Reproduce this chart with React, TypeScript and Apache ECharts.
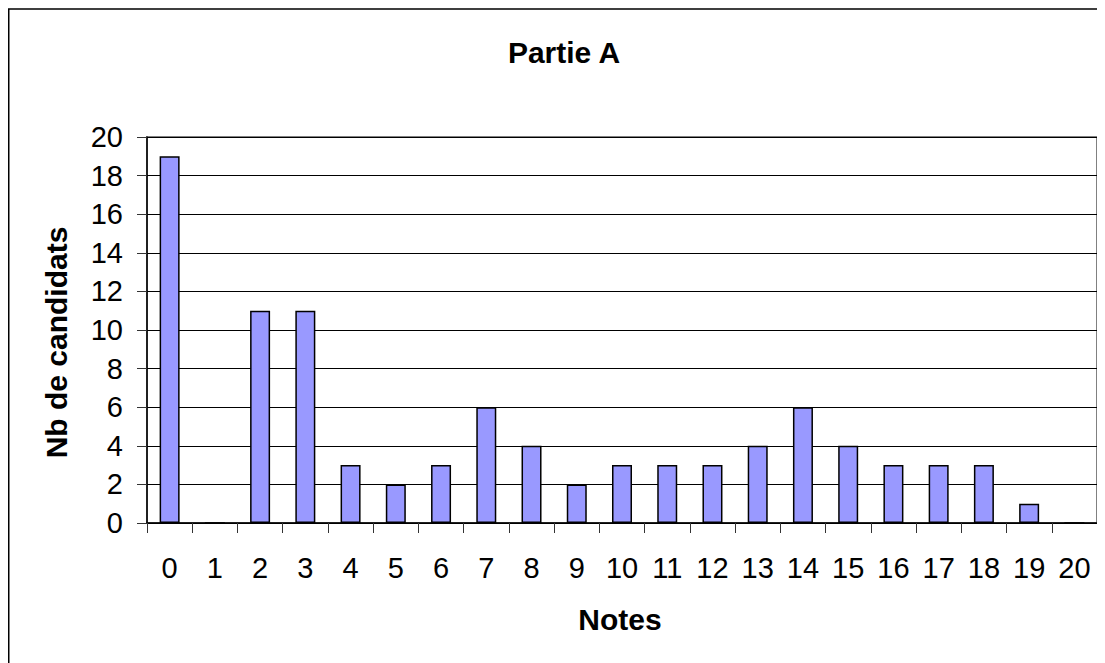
import React, { useEffect, useRef } from "react";
import * as echarts from "echarts";

const categories = ["0","1","2","3","4","5","6","7","8","9","10","11","12","13","14","15","16","17","18","19","20"];
const candidats = [19, 0, 11, 11, 3, 2, 3, 6, 4, 2, 3, 3, 3, 4, 6, 4, 3, 3, 3, 1, 0];
const yTicks = { min: 0, max: 20, interval: 2 };
const title = "Partie A";
const xName = "Notes";
const yName = "Nb de candidats";

const FONT = "'Liberation Sans', Arial, sans-serif";

export default function App() {
  const ref = useRef<HTMLDivElement>(null);
  useEffect(() => {
    if (!ref.current) return;
    const chart = echarts.init(ref.current, undefined, { renderer: "svg" });
    chart.setOption({
      animation: false,
      backgroundColor: "#fff",
      grid: {
        left: 139,
        top: 129,
        width: 950,
        height: 386,
        show: true,
        borderColor: "#808080",
        borderWidth: 2,
        backgroundColor: "transparent",
      },
      xAxis: {
        type: "category",
        data: categories,
        boundaryGap: true,
        axisLine: { show: true, lineStyle: { color: "#000", width: 1.5 } },
        axisTick: { show: true, interval: 0, length: 10, inside: false, lineStyle: { color: "#333", width: 1 } },
        axisLabel: { interval: 0, margin: 30, fontSize: 29, color: "#000", fontFamily: FONT },
        splitLine: { show: false },
      },
      yAxis: {
        type: "value",
        min: yTicks.min,
        max: yTicks.max,
        interval: yTicks.interval,
        axisLine: { show: true, lineStyle: { color: "#000", width: 1.5 } },
        axisTick: { show: true, length: 10, inside: false, lineStyle: { color: "#333", width: 1 } },
        axisLabel: { margin: 24, fontSize: 29, color: "#000", fontFamily: FONT },
        splitLine: { show: true, lineStyle: { color: "#000", width: 1 } },
      },
      series: [
        {
          type: "bar",
          data: candidats,
          barWidth: 20,
          itemStyle: { color: "#9999FF", borderColor: "#000", borderWidth: 1.5 },
        },
      ],
      graphic: [
        {
          type: "polyline",
          shape: { points: [[0.75, 700], [0.75, 1], [1200, 1]] },
          style: { stroke: "#000", lineWidth: 1.5, fill: "none" },
          silent: true,
        },
        {
          type: "text",
          x: 556,
          y: 44.5,
          style: { text: title, fontSize: 30, fontWeight: "bold", fontFamily: FONT, fill: "#000", textAlign: "center", textVerticalAlign: "middle" },
        },
        {
          type: "text",
          x: 612,
          y: 611,
          style: { text: xName, fontSize: 30, fontWeight: "bold", fontFamily: FONT, fill: "#000", textAlign: "center", textVerticalAlign: "middle" },
        },
        {
          type: "text",
          x: 48,
          y: 334.5,
          rotation: Math.PI / 2,
          style: { text: yName, fontSize: 30, fontWeight: "bold", fontFamily: FONT, fill: "#000", textAlign: "center", textVerticalAlign: "middle" },
        },
      ],
    });
    return () => chart.dispose();
  }, []);
  return <div ref={ref} style={{ width: 1097, height: 655 }} />;
}
